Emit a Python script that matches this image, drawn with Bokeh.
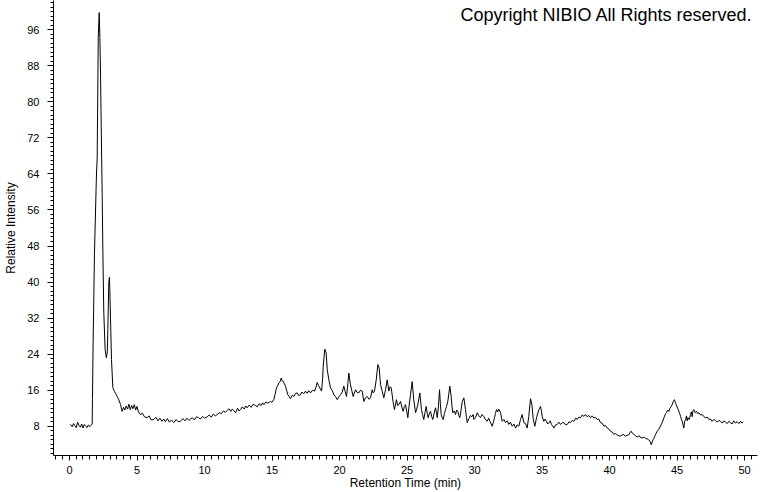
from bokeh.plotting import figure
from bokeh.models import Range1d, FixedTicker, Label
from bokeh.embed import file_html
from bokeh.resources import INLINE

# Retention time (min) and relative intensity
time_min = [
    0.05, 0.1, 0.2, 0.3, 0.4, 0.5, 0.6, 0.7, 0.8, 0.9, 1.0, 1.1, 1.2, 1.3, 1.4, 1.5, 1.6, 1.68,
    1.70, 1.75, 1.85, 1.97, 2.00, 2.05, 2.13, 2.20, 2.25, 2.30, 2.35, 2.42, 2.47, 2.54, 2.64,
    2.73, 2.80, 2.84, 2.91, 2.96, 2.99, 3.04, 3.11, 3.21, 3.33, 3.43, 3.53, 3.65, 3.78, 3.90,
    4.0, 4.1, 4.2, 4.3, 4.4, 4.5, 4.6, 4.7, 4.8, 4.9, 5.0, 5.1, 5.26, 5.4, 5.55, 5.75, 5.9,
    6.05, 6.24, 6.4, 6.55, 6.7, 6.85, 6.98, 7.1, 7.25, 7.4, 7.55, 7.73, 7.9, 8.05, 8.22, 8.4,
    8.55, 8.7, 8.85, 8.96, 9.1, 9.25, 9.4, 9.56, 9.7, 9.85, 10.0, 10.2, 10.35, 10.5, 10.65,
    10.8, 10.94, 11.1, 11.25, 11.4, 11.55, 11.68, 11.8, 11.95, 12.05, 12.17, 12.3, 12.45,
    12.55, 12.67, 12.8, 12.95, 13.05, 13.16, 13.3, 13.45, 13.6, 13.78, 13.9, 14.05, 14.2,
    14.3, 14.4, 14.55, 14.7, 14.89, 15.0, 15.13, 15.22, 15.33, 15.42, 15.5, 15.6, 15.68,
    15.75, 15.83, 15.92, 16.0, 16.08, 16.17, 16.27, 16.37, 16.5, 16.62, 16.75, 16.87, 16.98,
    17.1, 17.22, 17.35, 17.48, 17.6, 17.72, 17.85, 18.0, 18.15, 18.25, 18.35, 18.45, 18.54,
    18.67, 18.75, 18.79, 18.91, 19.01, 19.09, 19.21, 19.33, 19.45, 19.58, 19.7, 19.83, 19.95,
    20.07, 20.2, 20.32, 20.42, 20.52, 20.62, 20.69, 20.75, 20.81, 20.92, 21.01, 21.1, 21.19,
    21.3, 21.43, 21.55, 21.68, 21.8, 21.92, 22.05, 22.18, 22.3, 22.42, 22.5, 22.59, 22.72,
    22.84, 22.94, 23.04, 23.16, 23.28, 23.41, 23.53, 23.65, 23.75, 23.83, 23.98, 24.07,
    24.22, 24.3, 24.39, 24.52, 24.62, 24.72, 24.8, 24.89, 25.06, 25.15, 25.26, 25.38, 25.5,
    25.63, 25.72, 25.8, 25.95, 26.07, 26.15, 26.24, 26.33, 26.42, 26.5, 26.57, 26.66, 26.74,
    26.82, 26.91, 27.0, 27.11, 27.18, 27.24, 27.33, 27.41, 27.47, 27.53, 27.6, 27.68, 27.77,
    27.85, 27.93, 28.02, 28.1, 28.17, 28.27, 28.33, 28.39, 28.5, 28.59, 28.68, 28.76, 28.84,
    28.91, 29.0, 29.09, 29.21, 29.33, 29.4, 29.46, 29.58, 29.7, 29.8, 29.9, 29.95, 30.07,
    30.2, 30.32, 30.44, 30.55, 30.69, 30.8, 30.94, 31.05, 31.14, 31.22, 31.31, 31.4, 31.48,
    31.55, 31.63, 31.72, 31.8, 31.93, 32.05, 32.17, 32.3, 32.42, 32.54, 32.66, 32.79, 32.92,
    33.04, 33.16, 33.28, 33.41, 33.53, 33.65, 33.78, 33.9, 34.02, 34.15, 34.25, 34.35, 34.47,
    34.59, 34.77, 34.89, 34.95, 35.01, 35.13, 35.23, 35.33, 35.42, 35.51, 35.6, 35.7, 35.8,
    35.88, 36.0, 36.12, 36.25, 36.37, 36.5, 36.62, 36.75, 36.87, 37.0, 37.11, 37.25, 37.36,
    37.5, 37.61, 37.72, 37.85, 37.98, 38.1, 38.22, 38.35, 38.47, 38.59, 38.72, 38.84, 38.96,
    39.09, 39.2, 39.33, 39.45, 39.58, 39.7, 39.83, 39.95, 40.07, 40.2, 40.32, 40.44, 40.6,
    40.81, 41.0, 41.19, 41.3, 41.43, 41.52, 41.6, 41.7, 41.8, 41.92, 42.05, 42.2, 42.3,
    42.42, 42.55, 42.65, 42.79, 42.9, 42.99, 43.09, 43.16, 43.24, 43.33, 43.41, 43.53, 43.65,
    43.78, 43.9, 44.0, 44.07, 44.15, 44.22, 44.3, 44.39, 44.48, 44.57, 44.65, 44.72, 44.81,
    44.87, 44.94, 45.0, 45.09, 45.18, 45.26, 45.32, 45.38, 45.44, 45.5, 45.56, 45.63, 45.7,
    45.75, 45.8, 45.9, 46.0, 46.06, 46.12, 46.18, 46.25, 46.35, 46.44, 46.53, 46.62, 46.75,
    46.87, 47.0, 47.11, 47.25, 47.36, 47.48, 47.6, 47.72, 47.85, 47.97, 48.1, 48.22, 48.35,
    48.47, 48.59, 48.72, 48.84, 48.96, 49.08, 49.2, 49.33, 49.45, 49.58, 49.7, 49.8, 49.9,
]

intensity = [
    8.4, 8.3, 7.9, 8.6, 8.1, 7.7, 8.9, 8.2, 7.8, 8.5, 7.6, 8.4, 8.0, 7.7, 8.3, 7.9, 8.2, 8.5,
    13.9, 26.5, 46.4, 60.8, 64.2, 67.5, 94.3, 99.8, 94.3, 85.9, 74.4, 59.6, 47.0, 33.3, 25.0,
    23.2, 24.5, 29.4, 39.8, 41.1, 38.0, 31.6, 22.8, 16.6, 15.7, 15.2, 14.6, 13.9, 12.8, 11.3,
    12.2, 11.6, 12.5, 11.8, 12.9, 11.7, 12.6, 11.9, 12.8, 11.6, 12.4, 11.2, 10.6, 10.9, 10.1, 9.9, 10.3,
    9.4, 9.5, 10.0, 9.2, 9.8, 9.1, 9.6, 9.0, 9.7, 8.9, 9.4, 8.8, 9.5, 9.0, 9.1, 9.7,
    9.2, 9.8, 9.3, 9.6, 9.9, 9.4, 10.1, 9.9, 9.6, 10.2, 9.8, 10.1, 10.5, 10.0, 10.7,
    10.3, 10.6, 11.0, 10.8, 11.4, 11.1, 11.5, 11.9, 11.3, 11.8, 11.5, 11.0, 12.0,
    11.4, 11.7, 12.3, 11.8, 12.5, 12.1, 12.7, 12.2, 12.9, 12.6, 12.3, 13.0, 12.6,
    13.2, 12.8, 13.4, 13.1, 13.5, 13.3, 13.9, 15.0, 16.5, 17.0, 17.6, 17.9, 18.7,
    18.1, 18.0, 17.4, 16.9, 16.0, 15.0, 14.6, 14.1, 14.9, 14.6, 15.3, 15.4, 14.8,
    15.0, 15.6, 15.2, 15.8, 15.3, 15.9, 15.4, 16.0, 15.8, 16.6, 17.7, 17.0, 16.5,
    15.8, 18.5, 21.3, 25.1, 24.3, 20.6, 18.3, 16.5, 16.0, 15.0, 14.6, 13.9, 14.5,
    15.0, 15.6, 16.9, 15.7, 14.6, 17.5, 19.8, 18.5, 17.2, 15.8, 14.6, 15.4, 16.1,
    15.5, 15.4, 16.0, 15.8, 13.5, 14.3, 14.6, 14.0, 14.3, 16.1, 15.4, 15.8, 18.3,
    21.7, 20.9, 17.2, 15.8, 14.3, 16.1, 18.3, 15.8, 16.8, 16.5, 13.2, 11.7,
    13.9, 12.6, 12.8, 13.5, 12.2, 11.3, 12.4, 12.8, 9.9, 12.5, 15.0, 17.9, 13.9,
    11.0, 11.8, 12.8, 15.4, 11.7, 10.6, 9.5, 11.0, 12.4, 10.8, 9.9, 10.9, 11.3,
    10.2, 9.5, 10.8, 12.1, 11.0, 9.9, 12.5, 16.1, 13.0, 10.6, 10.0, 9.5, 10.8,
    11.7, 12.4, 13.5, 15.3, 16.9, 14.6, 12.5, 11.0, 11.4, 10.6, 11.6, 11.3, 10.4,
    9.9, 11.5, 13.5, 14.3, 11.7, 10.0, 8.8, 9.7, 10.4, 10.1, 10.6, 9.5, 9.9,
    11.0, 10.3, 9.9, 10.6, 10.2, 9.5, 9.1, 9.8, 9.1, 8.6, 8.0, 9.0, 9.9,
    10.8, 11.7, 11.2, 11.8, 11.0, 9.1, 9.5, 8.8, 9.2, 8.4, 8.9, 8.0, 8.5,
    7.6, 8.3, 8.0, 9.5, 10.6, 8.8, 8.6, 7.6, 10.2, 14.1, 12.8, 9.5, 8.0,
    9.9, 11.7, 12.4, 11.5, 10.2, 9.1, 9.6, 9.1, 8.5, 8.8, 9.2, 8.4, 8.0,
    7.6, 8.3, 8.4, 8.9, 8.4, 8.8, 8.8, 8.3, 8.4, 9.0, 8.8, 9.3, 9.1,
    9.8, 9.5, 10.0, 9.9, 10.5, 10.2, 10.6, 10.1, 10.4, 9.9, 10.3, 9.8, 10.0,
    9.5, 9.6, 8.8, 8.7, 8.0, 8.2, 7.6, 7.4, 6.9, 6.7, 6.2, 6.4, 6.0,
    5.8, 6.2, 5.8, 6.0, 6.1, 6.6, 6.9, 6.4, 6.2, 5.9, 5.6, 5.9, 5.5,
    5.4, 5.6, 5.3, 5.2, 5.0, 4.7, 3.9, 4.5, 5.1, 5.6, 6.2, 6.9, 7.3,
    8.1, 8.8, 9.6, 10.2, 10.8, 11.0, 11.6, 11.3, 12.0, 12.4, 12.9, 13.5, 13.9,
    13.3, 12.8, 12.3, 11.7, 11.0, 10.2, 9.6, 9.1, 8.4, 7.6, 9.0, 9.5, 10.3,
    9.2, 9.9, 9.5, 10.6, 11.2, 10.1, 11.5, 11.7, 11.0, 11.3, 10.8, 11.0, 10.5,
    10.6, 10.1, 9.9, 10.0, 9.5, 9.6, 9.1, 9.5, 9.3, 8.9, 9.3, 9.1, 8.7,
    9.2, 8.9, 8.6, 9.1, 8.8, 8.5, 9.2, 8.7, 9.0, 8.6, 9.1, 8.7, 9.0,
]

x_major_ticks = [0, 5, 10, 15, 20, 25, 30, 35, 40, 45, 50]
y_major_ticks = [8, 16, 24, 32, 40, 48, 56, 64, 72, 80, 88, 96]
x_minor_ticks = [i * 0.5 for i in range(-2, 103)]
y_minor_ticks = list(range(1, 103))

p = figure(
    width=760, height=492,
    output_backend="svg", toolbar_location=None,
    x_range=Range1d(-1.185, 50.96), y_range=Range1d(1.51, 102.48),
    min_border_left=53, min_border_right=3, min_border_top=0, min_border_bottom=36,
)
p.outline_line_color = None
p.xgrid.visible = False
p.ygrid.visible = False
p.background_fill_color = "white"
p.border_fill_color = "white"

p.line(time_min, intensity, line_color="black", line_width=1)

for ax in (p.xaxis[0], p.yaxis[0]):
    ax.axis_line_color = "black"
    ax.major_tick_line_color = "black"
    ax.minor_tick_line_color = "black"
    ax.major_tick_in = 0
    ax.minor_tick_in = 0
    ax.major_label_text_font = "Liberation Sans"
    ax.major_label_text_font_size = "11px"
    ax.major_label_text_color = "black"
    ax.axis_label_text_font = "Liberation Sans"
    ax.axis_label_text_font_size = "12px"
    ax.axis_label_text_font_style = "normal"
    ax.axis_label_text_color = "black"

p.xaxis[0].ticker = FixedTicker(ticks=x_major_ticks, minor_ticks=x_minor_ticks)
p.yaxis[0].ticker = FixedTicker(ticks=y_major_ticks, minor_ticks=y_minor_ticks)
p.xaxis[0].major_tick_out = 5
p.xaxis[0].minor_tick_out = 4
p.yaxis[0].major_tick_out = 6
p.yaxis[0].minor_tick_out = 3
p.xaxis[0].major_label_standoff = 5
p.yaxis[0].major_label_standoff = 8
p.xaxis[0].axis_label = "Retention Time (min)"
p.yaxis[0].axis_label = "Relative Intensity"
p.xaxis[0].axis_label_standoff = -1
p.yaxis[0].axis_label_standoff = 6

p.add_layout(Label(x=50.59, y=99.27, text="Copyright NIBIO All Rights reserved.",
                   text_align="right", text_baseline="alphabetic",
                   text_font="Liberation Sans", text_font_size="18px", text_color="black"))

open("out.html", "w").write(file_html(p, INLINE))
